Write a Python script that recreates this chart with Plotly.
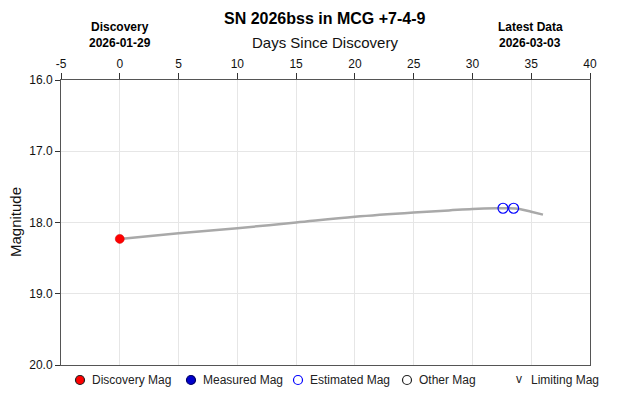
import plotly.graph_objects as go

# Data
curve_days = [0, 5, 10, 15, 20, 25, 28, 30, 32, 33, 34, 35, 36]
curve_mags = [18.23, 18.15, 18.08, 18.0, 17.92, 17.86, 17.83, 17.81, 17.80, 17.80, 17.81, 17.85, 17.89]
disc_day = [0]
disc_mag = [18.23]
est_days = [32.6, 33.5]
est_mags = [17.80, 17.80]

x_ticks = [-5, 0, 5, 10, 15, 20, 25, 30, 35, 40]
y_ticks = [16, 17, 18, 19, 20]
y_tick_labels = ["16.0", "17.0", "18.0", "19.0", "20.0"]

legend_items = ["Discovery Mag", "Measured Mag", "Estimated Mag", "Other Mag", "Limiting Mag"]
legend_fill = ["#ff0000", "#0000cc", "rgba(0,0,0,0)", "rgba(0,0,0,0)", None]
legend_edge = ["#222222", "#000066", "#0000ff", "#222222", "#222222"]

FONT = "Liberation Sans, Arial, sans-serif"

fig = go.Figure()
fig.add_trace(go.Scatter(x=curve_days, y=curve_mags, mode="lines",
                         line=dict(color="#a9a9a9", width=2.5, shape="spline"),
                         hoverinfo="skip", showlegend=False))
fig.add_trace(go.Scatter(x=disc_day, y=disc_mag, mode="markers",
                         marker=dict(color="#ff0000", size=9, line=dict(color="#cc0000", width=0.5)),
                         showlegend=False))
fig.add_trace(go.Scatter(x=est_days, y=est_mags, mode="markers",
                         marker=dict(symbol="circle-open", color="#0000ff", size=10, line=dict(width=1.2)),
                         showlegend=False))

L, R, T, B = 61, 40, 80, 40
W, H = 630, 405
pw, ph = W - L - R, H - T - B

def px_to_paper_x(px):
    return (px - L) / pw

def px_to_paper_y(py):
    return (H - B - py) / ph

fig.update_layout(
    width=W, height=H,
    margin=dict(l=L, r=R, t=T, b=B),
    paper_bgcolor="white", plot_bgcolor="white",
    font=dict(family=FONT, size=12, color="#111111"),
    showlegend=False,
    xaxis=dict(range=[-5, 40], side="top", tickvals=x_ticks, ticktext=[str(v) for v in x_ticks],
               ticks="outside", ticklen=6, tickcolor="#333333", tickfont=dict(size=12, color="#111111"),
               showgrid=True, gridcolor="#e6e6e6", gridwidth=1,
               showline=True, linecolor="#555555", linewidth=1, mirror=True, zeroline=False),
    yaxis=dict(range=[20, 16], tickvals=y_ticks, ticktext=y_tick_labels,
               ticks="outside", ticklen=5, tickcolor="#333333", tickfont=dict(size=12, color="#111111"),
               showgrid=True, gridcolor="#e6e6e6", gridwidth=1,
               showline=True, linecolor="#555555", linewidth=1, mirror=True, zeroline=False),
)

def note(text, px, py, size, color="#111111", xanchor="center", angle=0):
    return dict(text=text, x=px_to_paper_x(px), y=px_to_paper_y(py), xref="paper", yref="paper",
                xanchor=xanchor, yanchor="middle", showarrow=False, textangle=angle,
                font=dict(size=size, color=color))

ann = [
    note("<b>SN 2026bss in MCG +7-4-9</b>", 325, 18, 16, "#000000"),
    note("Days Since Discovery", 325, 42, 15),
    note("<b>Discovery</b>", 120, 27, 12, "#000000"),
    note("<b>2026-01-29</b>", 120, 43, 12, "#000000"),
    note("<b>Latest Data</b>", 530, 27, 12, "#000000"),
    note("<b>2026-03-03</b>", 530, 43, 12, "#000000"),
    note("Magnitude", 15, 222, 15, angle=-90),
]

shapes = []
sym_px = [80, 191, 298, 407, 519]
for sx, name, fill, edge in zip(sym_px, legend_items, legend_fill, legend_edge):
    if fill is None:
        ann.append(note("v", sx, 379, 12, edge))
    else:
        shapes.append(dict(type="circle", xref="paper", yref="paper",
                           xsizemode="pixel", ysizemode="pixel",
                           xanchor=px_to_paper_x(sx), yanchor=px_to_paper_y(380),
                           x0=-4.5, x1=4.5, y0=-4.5, y1=4.5,
                           fillcolor=fill, line=dict(color=edge, width=1.2)))
    ann.append(note(name, sx + 10, 380, 12, "#222222", xanchor="left"))

fig.update_layout(annotations=ann, shapes=shapes)
fig.write_html("out.html")
